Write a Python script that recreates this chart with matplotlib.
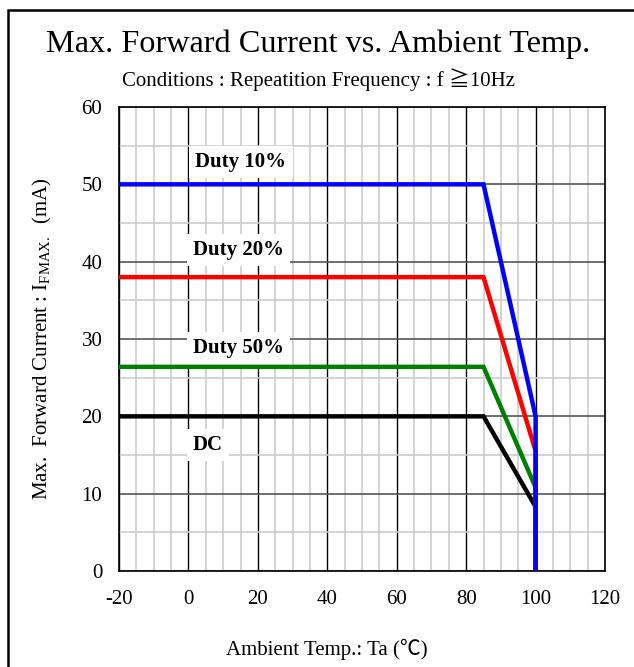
import numpy as np
import matplotlib
matplotlib.use('Agg')
import matplotlib.pyplot as plt
from matplotlib.patches import Rectangle

plt.rcParams['font.family'] = ['Liberation Serif', 'Noto Sans CJK JP']
plt.rcParams['mathtext.fontset'] = 'custom'
plt.rcParams['mathtext.rm'] = 'Liberation Serif'
plt.rcParams['axes.unicode_minus'] = False

# derating curves: (Ta, IF max)
series_names = ['Duty 10%', 'Duty 20%', 'Duty 50%', 'DC']
series_colors = ['#0000ff', '#ff0000', '#008000', '#000000']
ta_points = [-20, 85, 100, 100]
duty10 = [50, 50, 20, 0]
duty20 = [38, 38, 15.5, 0]
duty50 = [26.4, 26.4, 10.8, 0]
dc = [20, 20, 8.3, 0]
series_values = [duty10, duty20, duty50, dc]

# label anchor points (Ta, IF)
label_x = [2.0, 1.3, 1.3, 1.3]
label_y = [52.9, 41.5, 28.8, 16.3]

x_ticks = [-20, 0, 20, 40, 60, 80, 100, 120]
y_ticks = [0, 10, 20, 30, 40, 50, 60]

fig = plt.figure(figsize=(6.34, 6.67), dpi=100)
ax = fig.add_axes([0.1877, 0.1439, 0.7666, 0.6957])

# outer frame
fig.patches.append(Rectangle((8/634, -0.1), 1.2, 1 - 10/667 + 0.1, transform=fig.transFigure,
                             fill=False, edgecolor='black', lw=1.8, zorder=0))

ax.set_xlim(-20, 120)
ax.set_ylim(0, 60)
ax.set_xticks(x_ticks)
ax.set_yticks(y_ticks)
ax.set_xticks(np.arange(-20, 121, 5), minor=True)
ax.set_yticks(np.arange(0, 61, 5), minor=True)
ax.tick_params(which='both', length=0, labelsize=15)
ax.tick_params(axis='y', pad=12)
ax.tick_params(axis='x', pad=14)
ax.grid(which='minor', color='#cccccc', lw=1.2)
ax.grid(which='major', axis='x', color='black', lw=1.0)
ax.grid(which='major', axis='y', color='#555555', lw=1.2)
ax.set_axisbelow(True)
for s in ax.spines.values():
    s.set_linewidth(1.2)

# last one drawn on top: blue vertical over others
order = [3, 2, 1, 0]
for i in order:
    ax.plot(ta_points, series_values[i], color=series_colors[i], lw=3.2,
            solid_capstyle='butt', solid_joinstyle='miter', clip_on=False, zorder=3 + (3 - i))

for i, name in enumerate(series_names):
    ax.text(label_x[i], label_y[i], name, fontsize=15, fontweight='bold', ha='left', va='center',
            bbox=dict(facecolor='white', edgecolor='none', boxstyle='square,pad=0.3'), zorder=2.5)

fig.text(0.5016, 0.934, 'Max. Forward Current vs. Ambient Temp.', fontsize=23.2, ha='center', va='center')
fig.text(0.5016, 0.880, 'Conditions : Repeatition Frequency : f \u226710Hz', fontsize=15, ha='center', va='center')
ax.set_xlabel('Ambient Temp.: Ta (\u2103)', fontsize=15, labelpad=18)
ax.xaxis.set_label_coords(0.428, -0.145)
ax.set_ylabel('Max.  Forward Current : $\\mathregular{I_{FMAX.}}$  (mA)', fontsize=15, labelpad=20)

fig.savefig('out.png', dpi=100)
